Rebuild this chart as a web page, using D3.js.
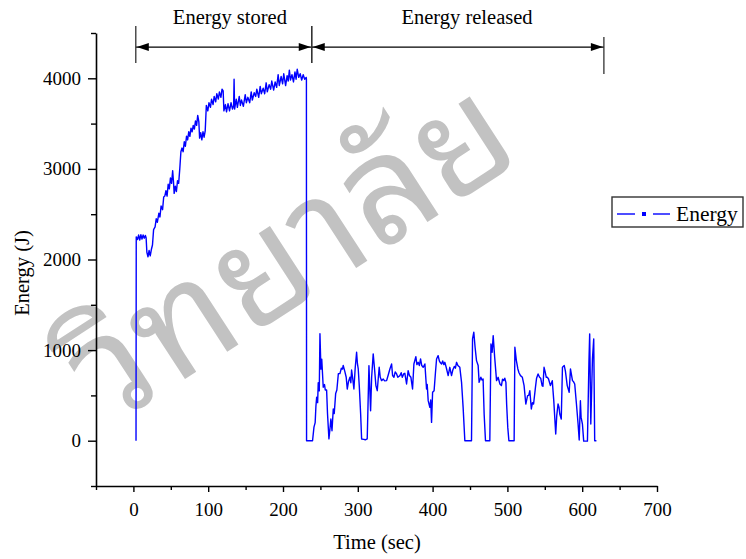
<!DOCTYPE html>
<html>
<head>
<meta charset="utf-8">
<script src="https://d3js.org/d3.v7.min.js"></script>
<title>Energy stored / released</title>
<style type="text/css">
	body { margin: 0; background: #fff; }
	#chart { width: 746px; height: 559px; }
	text { font-family: "Liberation Serif", "Times New Roman", serif; fill: #000; }
</style>
</head>
<body>
<div id="chart"></div>
<script>
// time (sec), energy (J)
var storedPts = [
	[3.5,0],[3.8,2250],[5.5,2220],[7,2270],[8.5,2215],[10,2275],[11.5,2225],[13,2270],[14.5,2235],[16,2265],[17,2240],
	[18,2080],[19.5,2030],[21,2100],[22.5,2040],[24,2110],[25.5,2160],[27,2330],[29,2360],[30.5,2450],[32,2410],
	[34,2510],[35.5,2470],[37,2590],[39,2550],[40.5,2690],[42,2700],[43.5,2760],[45,2700],[46.5,2830],[48,2780],
	[49.5,2900],[51,2840],[52.5,2980],[53.5,2870],[54.5,2730],[56,2810],[57.5,2750],[59,2870],[60.5,2840],[62,3000],
	[63.5,3190],[65,3230],[66.5,3190],[68,3300],[69.5,3250],[71,3360],[72.5,3320],[74,3410],[75.5,3360],[77,3450],
	[78.5,3410],[80,3480],[81.5,3440],[83,3530],[84.5,3480],[86,3590],[87.5,3520],[88.5,3340],[90,3400],[91.5,3320],
	[93,3410],[94.5,3350],[96,3420],[97.5,3700],[99.5,3640],[101,3730],[103,3680],[104.5,3770],[106.5,3710],
	[108,3800],[110,3740],[111.5,3830],[113.5,3770],[115,3850],[117,3790],[118.5,3880],[120,3860],[121,3640],
	[123,3710],[124.5,3630],[126.5,3720],[128.5,3640],[130.5,3730],[132.5,3660],[134,3700],[134.6,3990],[135.3,3660],
	[137.5,3770],[139,3680],[141.5,3800],[143,3700],[144.5,3760],[147,3690],[149.5,3820],[151,3730],[153,3790],
	[155.5,3730],[157.5,3850],[159,3760],[161.5,3840],[163.5,3800],[165,3880],[167.5,3790],[169.5,3910],[171,3830],
	[173.5,3890],[175.5,3830],[177.5,3950],[179,3850],[181.5,3930],[183.5,3880],[185,3970],[187.5,3870],[189.5,3960],
	[191.5,3900],[193.5,4040],[195,3920],[197.5,4020],[199.5,3940],[201,4050],[203.5,3920],[205.5,4030],[207,3970],
	[208.5,4090],[210,3980],[212,4040],[214,3960],[216,4070],[217.5,3990],[219,4100],[221,4010],[223,4050],[225,3980],
	[227,4040],[229,3990],[231,4010],[231.3,3990]
];
var releasedPts = [
	[231.5,0],[239.5,0],[241.4,150],[243,200],[244,380],[245,480],[246.3,420],[247.1,640],[248.5,550],[249.4,1180],
	[250.7,790],[251.8,900],[253.8,590],[255.5,620],[256.5,560],[258.3,560],[259.5,300],[261.4,20],[263,150],[264,240],
	[265.5,110],[267.2,350],[268.5,300],[270.4,520],[272,560],[274,740],[276.1,740],[278,800],[279.5,790],[280.5,830],
	[282.8,760],[284.5,700],[285.9,570],[287.5,650],[289.5,700],[290.7,640],[291.7,780],[293,700],[294.8,571],[296.5,800],
	[298.4,976],[299.5,850],[300.6,792],[302,600],[303.8,295],[305.1,18],[308,15],[310,10],[312.6,20],[314.9,829],
	[317.1,331],[318.5,700],[320.6,958],[322.3,800],[324.2,608],[326,552],[328.6,810],[330,700],[331.8,663],[334,680],
	[336,660],[338.5,663],[340.5,720],[342.9,792],[345.2,847],[346.5,720],[348.3,700],[350,760],[351.9,737],[353.5,700],
	[356.3,718],[358,750],[359.5,700],[361.5,740],[362.9,744],[365.2,626],[367.3,773],[369,720],[371,700],[373.2,571],
	[375,847],[377.6,928],[379,840],[380.7,865],[382.3,830],[383.9,902],[385.5,830],[387.4,810],[389.7,847],[391.9,571],
	[392.8,620],[394.1,442],[396.3,368],[397.5,450],[398.6,202],[400,534],[402,552],[403.8,750],[405.3,902],[407.4,939],
	[409,880],[410.5,860],[412,847],[413.5,880],[415,840],[416.4,865],[418.5,800],[420.8,718],[423,810],[425.3,718],
	[427,780],[429,820],[430.5,800],[432,865],[433.8,830],[436.4,810],[438.7,644],[440.8,368],[443.1,0],[452,0],
	[453.4,1124],[455.1,1197],[456.8,1031],[458.7,884],[460.9,829],[462.2,644],[464.5,700],[466,670],[467.5,681],
	[468.9,295],[470.7,0],[476.5,0],[478,1068],[479.6,976],[481,1160],[483,920],[485.5,663],[487.6,700],[490,626],
	[492,608],[493.5,680],[495,663],[496.5,690],[498,644],[499,400],[500.5,147],[502,0],[509,0],[510,1031],[512,884],
	[514,792],[515.5,750],[517.5,718],[520,700],[522.3,608],[524.6,405],[526,460],[527,497],[528.5,500],[530,552],
	[532,350],[533.5,420],[535,405],[537.5,589],[539,690],[541,737],[543,700],[544.5,690],[546.4,608],[547.5,600],
	[549,810],[550.5,760],[552,700],[553.5,700],[555,681],[557.5,608],[560,663],[561,550],[562,442],[564.6,74],
	[566,280],[567.7,405],[569,370],[570,295],[572,240],[573.6,810],[576,829],[577.5,770],[580,608],[582.6,534],
	[584.3,792],[587,663],[588.5,650],[590,626],[592.3,405],[594.5,184],[596,7],[597.6,442],[598.5,260],[600.3,184],
	[602,-5],[607,-5],[609,865],[610,1179],[611.5,184],[613.7,902],[615.4,1124],[616.7,0],[619,0]
];

var xTicks = [0, 100, 200, 300, 400, 500, 600, 700];
var xMinor = [-50, 50, 150, 250, 350, 450, 550, 650];
var yTicks = [0, 1000, 2000, 3000, 4000];
var yMinor = [-500, 500, 1500, 2500, 3500, 4500];

// bracket annotations: time span, label and where the label sits
var phases = [
	{ from: 3.2, to: 238.4, label: "Energy stored", at: 129, endDrop: 0 },
	{ from: 238.4, to: 629, label: "Energy released", at: 446, endDrop: 11 }
];

var seriesName = "Energy";
// watermark, split into its glyph clusters
var watermark = ["วิ", "ท", "ย", "า", "ลั", "ย"];

function drawChart() {
	var svg = d3.select("#chart").append("svg")
		.attr("width", 746)
		.attr("height", 559);

	var x = d3.scaleLinear().domain([-50, 700]).range([96, 657]);
	var y = d3.scaleLinear().domain([-500, 4500]).range([486, 33]);

	// watermark (light grey, behind everything), laid out one cluster at a time along a tilted baseline
	var wmOuter = svg.append("g").attr("class", "watermark");
	var wm = wmOuter.append("g");
	var ang = -33, ca = Math.cos(ang * Math.PI / 180), sa = Math.sin(ang * Math.PI / 180);
	var pieces = wm.selectAll("text").data(watermark).enter().append("text")
		.style("font-family", "'Noto Sans Thai Looped', Loma, Garuda, 'Noto Serif Thai', serif")
		.style("font-size", "148px")
		.style("fill", "#c2c2c2")
		.text(function(d) { return d; });
	var widths = [];
	pieces.each(function() { widths.push(this.getComputedTextLength()); });
	var total = d3.sum(widths), pos = -total / 2;
	pieces.attr("transform", function(d, i) {
		var px = 284 + pos * ca, py = 208 + pos * sa;
		pos += widths[i];
		return "translate(" + px + "," + py + ") rotate(" + ang + ")";
	});
	// keep the whole watermark (font boxes included) inside the picture
	var boxes = pieces.nodes().map(function(n) { return n.getBoundingClientRect(); });
	var minX = d3.min(boxes, function(b) { return b.left; }), maxX = d3.max(boxes, function(b) { return b.right; });
	var minY = d3.min(boxes, function(b) { return b.top; }), maxY = d3.max(boxes, function(b) { return b.bottom; });
	var s = Math.min(1, 740 / (maxX - minX), 553 / (maxY - minY));
	var tx = (1 - s) * (minX + maxX) / 2, ty = (1 - s) * (minY + maxY) / 2;
	if (tx + s * minX < 3) tx = 3 - s * minX;
	if (tx + s * maxX > 743) tx = 743 - s * maxX;
	if (ty + s * minY < 3) ty = 3 - s * minY;
	if (ty + s * maxY > 556) ty = 556 - s * maxY;
	wmOuter.attr("transform", "translate(" + tx + "," + ty + ") scale(" + s + ")");

	// x axis
	var xAxis = svg.append("g").attr("transform", "translate(0,486)");
	xAxis.call(d3.axisBottom(x).tickValues(xTicks).tickSize(6).tickSizeOuter(0).tickFormat(d3.format("d")));
	xAxis.selectAll(".tick text").attr("y", 30).attr("dy", 0).style("font-size", "19px");
	xAxis.append("g").call(d3.axisBottom(x).tickValues(xMinor).tickSize(4).tickFormat(""))
		.select(".domain").remove();

	// y axis
	var yAxis = svg.append("g").attr("transform", "translate(96,0)");
	yAxis.call(d3.axisLeft(y).tickValues(yTicks).tickSize(8).tickPadding(7).tickSizeOuter(0).tickFormat(d3.format("d")));
	yAxis.selectAll(".tick text").style("font-size", "19px");
	yAxis.append("g").call(d3.axisLeft(y).tickValues(yMinor).tickSize(5).tickFormat(""))
		.select(".domain").remove();

	svg.selectAll(".domain").attr("stroke", "#000").attr("stroke-width", 1.6);
	svg.selectAll(".tick line").attr("stroke", "#000").attr("stroke-width", 1.4);
	svg.selectAll(".tick text").style("font-family", "'Liberation Serif', serif").attr("fill", "#000");

	// axis titles
	svg.append("text")
		.attr("x", 377).attr("y", 549)
		.attr("text-anchor", "middle")
		.style("font-size", "20.5px")
		.text("Time (sec)");
	svg.append("text")
		.attr("transform", "translate(29,273) rotate(-90)")
		.attr("text-anchor", "middle")
		.style("font-size", "20.5px")
		.text("Energy (J)");

	// data line
	var line = d3.line()
		.x(function(d) { return x(d[0]); })
		.y(function(d) { return y(d[1]); });
	var allPts = storedPts.concat(releasedPts);
	svg.append("path")
		.datum(allPts)
		.attr("d", line)
		.attr("fill", "none")
		.attr("stroke", "#0000ff")
		.attr("stroke-width", 1.4)
		.attr("stroke-linejoin", "round");

	// bracket annotations
	var arrowY = y(4345);
	var ann = svg.append("g").attr("class", "phases");
	phases.forEach(function(p) {
		var x1 = x(p.from), x2 = x(p.to);
		ann.append("line")
			.attr("x1", x1).attr("x2", x2)
			.attr("y1", arrowY).attr("y2", arrowY)
			.attr("stroke", "#000").attr("stroke-width", 1.2);
		// bars at both ends
		ann.append("line")
			.attr("x1", x1).attr("x2", x1)
			.attr("y1", arrowY - 21).attr("y2", arrowY + 16)
			.attr("stroke", "#333").attr("stroke-width", 1.3);
		ann.append("line")
			.attr("x1", x2).attr("x2", x2)
			.attr("y1", arrowY - 21 + p.endDrop).attr("y2", arrowY + 16 + p.endDrop)
			.attr("stroke", "#333").attr("stroke-width", 1.3);
		// arrow heads
		ann.append("path")
			.attr("d", "M" + (x1 + 1) + "," + arrowY + "L" + (x1 + 13) + "," + (arrowY - 4) + "L" + (x1 + 13) + "," + (arrowY + 4) + "Z")
			.attr("fill", "#000");
		ann.append("path")
			.attr("d", "M" + (x2 - 1) + "," + arrowY + "L" + (x2 - 13) + "," + (arrowY - 4) + "L" + (x2 - 13) + "," + (arrowY + 4) + "Z")
			.attr("fill", "#000");
		ann.append("text")
			.attr("x", x(p.at)).attr("y", arrowY - 23)
			.attr("text-anchor", "middle")
			.style("font-size", "20.5px")
			.text(p.label);
	});

	// legend
	var lg = svg.append("g").attr("transform", "translate(612,197)");
	lg.append("rect")
		.attr("width", 131).attr("height", 30)
		.attr("fill", "#fff").attr("stroke", "#333").attr("stroke-width", 1.4);
	lg.append("line").attr("x1", 5).attr("x2", 23).attr("y1", 17).attr("y2", 17)
		.attr("stroke", "#0000ff").attr("stroke-width", 1.4);
	lg.append("line").attr("x1", 41).attr("x2", 58).attr("y1", 17).attr("y2", 17)
		.attr("stroke", "#0000ff").attr("stroke-width", 1.4);
	lg.append("rect").attr("x", 30).attr("y", 15).attr("width", 4).attr("height", 4)
		.attr("fill", "#0000ff");
	lg.append("text").attr("x", 64).attr("y", 24)
		.style("font-size", "21.5px")
		.text(seriesName);
}

drawChart();
</script>
</body>
</html>
